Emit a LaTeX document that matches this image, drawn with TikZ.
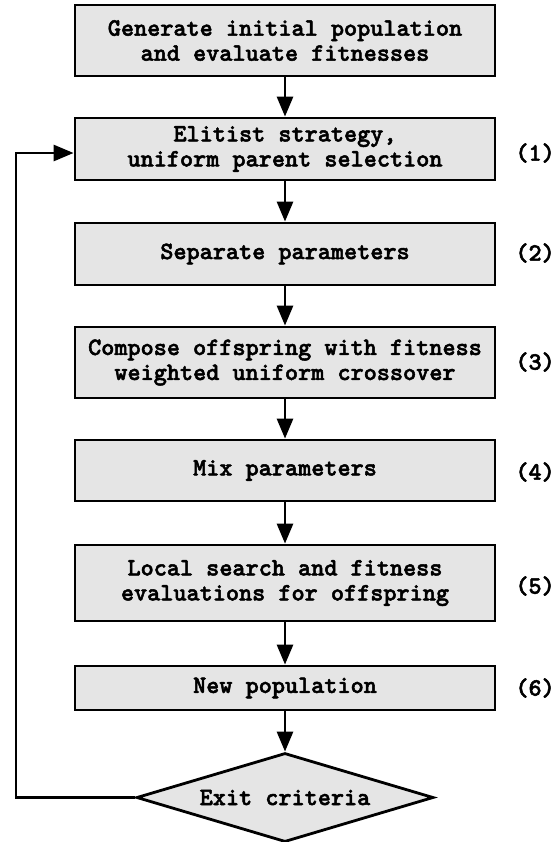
\documentclass[tikz,border=0pt]{standalone}
\usepackage{fontspec}
\newfontfamily\boxfont{lmmonolt10-bold.otf}[FakeBold=2]
\usetikzlibrary{arrows.meta,shapes.geometric}

\begin{document}
\begin{tikzpicture}[x=0.5pt, y=-0.5pt,
        every node/.style={font=\boxfont\fontsize{12.5}{12.5}\selectfont},
        stepbox/.style={draw, line width=1.4pt, fill=black!10, align=center,
            minimum width=210pt, inner sep=0pt},
        exitbox/.style={draw, line width=1.4pt, fill=black!10, diamond, aspect=3.3,
            minimum width=148.5pt, minimum height=44.5pt, inner sep=0pt},
        flow/.style={line width=1.4pt, -{Triangle[length=10pt, width=8pt]}},
        steplabel/.style={anchor=west, inner sep=0pt}]
        \useasboundingbox (0, 0) rectangle (560, 842);

        \node [stepbox, minimum height=35.5pt] (gen) at (285, 40.5) {Generate initial population\\and evaluate fitnesses};
        \node [stepbox, minimum height=31pt] (elit) at (285, 149) {Elitist strategy,\\uniform parent selection};
        \node [stepbox, minimum height=31pt] (sep) at (285, 254) {Separate parameters};
        \node [stepbox, minimum height=35.5pt] (comp) at (285, 362.5) {Compose offspring with fitness\\weighted uniform crossover};
        \node [stepbox, minimum height=30.5pt] (mix) at (285, 470.5) {Mix parameters};
        \node [stepbox, minimum height=38pt] (local) at (285, 583) {Local search and fitness\\evaluations for offspring};
        \node [stepbox, minimum height=22pt] (newpop) at (285, 688) {New population};
        \node [exitbox] (exit) at (285, 797.5) {Exit criteria};

        \node [steplabel] (lab1) at (515, 153) {(1)};
        \node [steplabel] (lab2) at (515, 253) {(2)};
        \node [steplabel] (lab3) at (515, 362) {(3)};
        \node [steplabel] (lab4) at (515, 472) {(4)};
        \node [steplabel] (lab5) at (515, 586) {(5)};
        \node [steplabel] (lab6) at (515, 688) {(6)};

        \draw [flow] (gen) -- (elit);
        \draw [flow] (elit) -- (sep);
        \draw [flow] (sep) -- (comp);
        \draw [flow] (comp) -- (mix);
        \draw [flow] (mix) -- (local);
        \draw [flow] (local) -- (newpop);
        \draw [flow] (newpop) -- (exit);

        % back to parent selection
        \coordinate (loop) at (16, 153);
        \draw [flow] (exit.west) -| (loop) -- (elit.west |- loop);
    \end{tikzpicture}
\end{document}
